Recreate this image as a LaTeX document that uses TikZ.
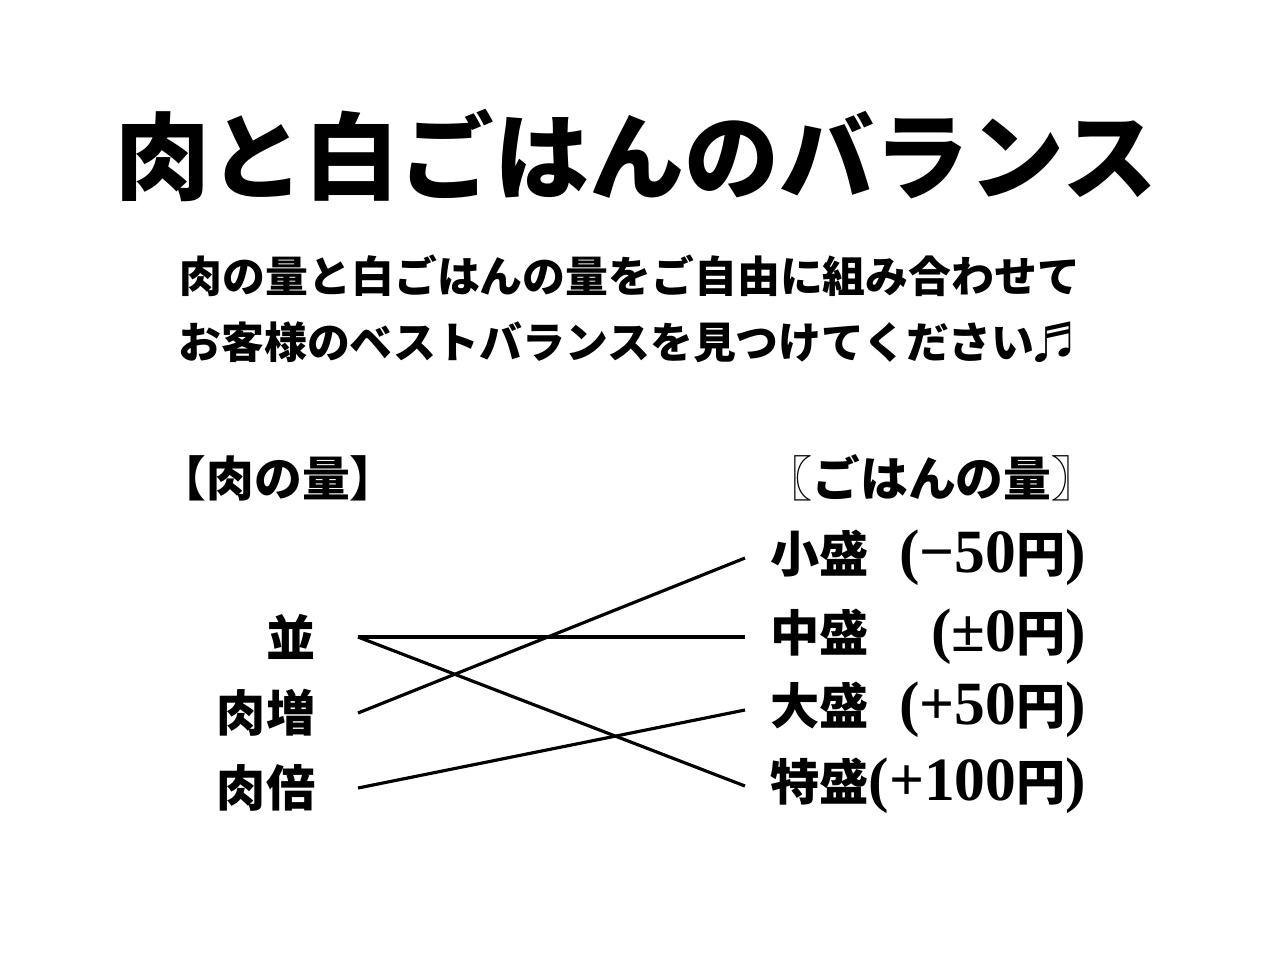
\documentclass[tikz,border=0pt]{standalone}
\usepackage{fontspec}
\setmainfont{Noto Sans CJK JP}
\newfontfamily\numfont[Scale=1.25]{Liberation Serif}
\newcommand\menuline[2]{\makebox[3.15cm]{#1\hfill{\numfont(#2}円{\numfont)}}}

\begin{document}
\begin{tikzpicture}[
  title/.style={font=\fontsize{27}{30}\selectfont\bfseries},
  lead/.style={font=\fontsize{12.2}{15}\selectfont\bfseries},
  head/.style={font=\fontsize{13.6}{16}\selectfont\bfseries, inner sep=0pt},
  meat/.style={font=\fontsize{14}{16}\selectfont\bfseries, anchor=east, inner sep=0pt, inner xsep=0.42cm},
  rice/.style={font=\fontsize{14}{16}\selectfont\bfseries, anchor=west, inner sep=0pt, inner xsep=0.25cm},
  link/.style={line width=0.9pt}]
\useasboundingbox (0,0) rectangle (12.8,9.6);
%\draw[step=1cm,gray,very thin] (0,0) grid (12.8,9.6); %background grid
\node[title] (title) at (6.36,8.05) {肉と白ごはんのバランス};
\node[lead] (lead1) at (6.30,6.84) {肉の量と白ごはんの量をご自由に組み合わせて};
\node[lead] (lead2) at (6.28,6.18) {お客様のベストバランスを見つけてください♬};

\node[head, anchor=west] (meathead) at (1.58,4.82) {【肉の量】};
\node[head, anchor=east] (ricehead) at (11.0,4.82) {〖ごはんの量〗};

\node[meat] (nami) at (3.58,3.23) {並};
\node[meat] (masu) at (3.58,2.47) {肉増};
\node[meat] (bai)  at (3.58,1.72) {肉倍};

\node[rice] (sho)   at (7.45,4.02) {\menuline{小盛}{−50}};
\node[rice] (chu)   at (7.45,3.23) {\menuline{中盛}{±0}};
\node[rice] (dai)   at (7.45,2.50) {\menuline{大盛}{+50}};
\node[rice] (toku)  at (7.45,1.74) {\menuline{特盛}{+100}};

\draw[link] (nami.east) -- (chu.west);
\draw[link] (nami.east) -- (toku.west);
\draw[link] (masu.east) -- (sho.west);
\draw[link] (bai.east) -- (dai.west);
\end{tikzpicture}
\end{document}
